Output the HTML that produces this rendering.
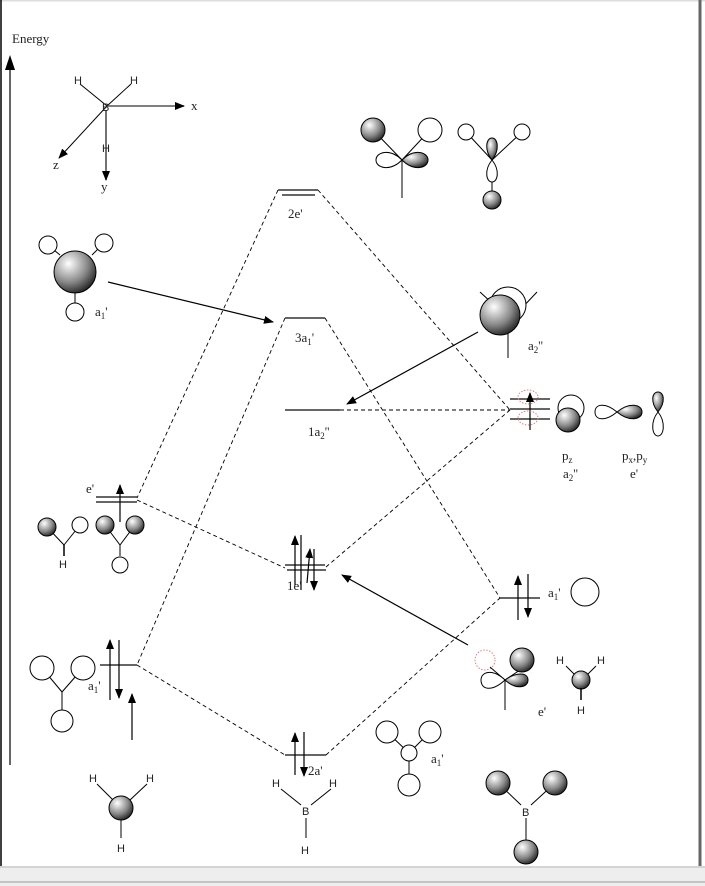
<!DOCTYPE html>
<html><head><meta charset="utf-8"><style>
html,body{margin:0;padding:0;background:#fff}
svg{display:block}
text{font-family:"Liberation Serif",serif;font-size:13px;fill:#222}
.s{font-family:"Liberation Sans",sans-serif;font-size:11px}
</style></head><body>
<svg width="705" height="886" viewBox="0 0 705 886" xmlns="http://www.w3.org/2000/svg">
<defs>
<radialGradient id="g" cx="0.35" cy="0.3" r="0.75">
<stop offset="0" stop-color="#fff"/><stop offset="0.6" stop-color="#888"/><stop offset="1" stop-color="#222"/>
</radialGradient>
<marker id="a" markerWidth="10" markerHeight="8" refX="9" refY="4" orient="auto" markerUnits="userSpaceOnUse">
<path d="M0,0 L10,4 L0,8 Z" fill="#000"/></marker>
</defs>
<rect x="0" y="0" width="705" height="1.5" fill="#ddd"/>
<line x1="1" y1="0" x2="1" y2="866" stroke="#000" stroke-width="1.5"/>
<line x1="700" y1="0" x2="700" y2="866" stroke="#666" stroke-width="3"/>
<rect x="0" y="866" width="705" height="20" fill="#eee"/>
<line x1="0" y1="867" x2="705" y2="867" stroke="#bbb"/>
<line x1="0" y1="882" x2="705" y2="882" stroke="#999"/>

<text x="12" y="43">Energy</text>
<line x1="10" y1="765" x2="10" y2="64" stroke="#666" stroke-width="2"/>
<path d="M10,55 L5,70 L15,70 Z" fill="#000"/>

<g stroke="#000">
<line x1="107" y1="106" x2="80" y2="84"/><line x1="107" y1="106" x2="131" y2="84"/>
<line x1="107" y1="106" x2="184" y2="106" stroke="#555" stroke-width="1.5" marker-end="url(#a)"/>
<line x1="107" y1="106" x2="59" y2="158" marker-end="url(#a)"/>
<line x1="106" y1="110" x2="106" y2="180" stroke="#444" stroke-width="1.5" marker-end="url(#a)"/>
</g>
<text class="s" x="74" y="84">H</text><text class="s" x="130" y="84">H</text>
<text class="s" x="102" y="111">B</text><text class="s" x="102" y="152">H</text>
<text x="191" y="110">x</text><text x="53" y="169">z</text><text x="101" y="191">y</text>

<g stroke="#000" stroke-dasharray="4,3" fill="none" stroke-width="0.9">
<line x1="278" y1="190" x2="137" y2="498"/>
<line x1="318" y1="190" x2="510" y2="410"/>
<line x1="285" y1="318" x2="137" y2="665"/>
<line x1="325" y1="318" x2="500" y2="598"/>
<line x1="340" y1="410" x2="510" y2="410"/>
<line x1="137" y1="500" x2="285" y2="568"/>
<line x1="326" y1="567" x2="510" y2="410"/>
<line x1="137" y1="665" x2="285" y2="755"/>
<line x1="326" y1="755" x2="500" y2="598"/>
</g>

<g stroke="#333" stroke-width="1.5">
<line x1="278" y1="190" x2="318" y2="190"/><line x1="282" y1="195" x2="315" y2="195"/>
<line x1="285" y1="318" x2="325" y2="318"/>
<line x1="285" y1="410" x2="340" y2="410"/>
<line x1="96" y1="497" x2="137" y2="497"/><line x1="96" y1="502" x2="137" y2="502"/>
<line x1="285" y1="565" x2="325" y2="565"/><line x1="287" y1="570" x2="326" y2="570"/>
<line x1="500" y1="598" x2="540" y2="598"/>
<line x1="100" y1="665" x2="137" y2="665"/>
<line x1="285" y1="755" x2="326" y2="755"/>
<line x1="510" y1="399" x2="550" y2="399"/><line x1="510" y1="409" x2="550" y2="409"/><line x1="510" y1="419" x2="550" y2="419"/>
</g>
<g stroke="#000" stroke-width="1.2">
<line x1="120" y1="522" x2="120" y2="485" marker-end="url(#a)"/>
<line x1="295" y1="585" x2="295" y2="536" marker-end="url(#a)"/>
<line x1="301" y1="535" x2="301" y2="590"/>
<line x1="307" y1="583" x2="310" y2="549" marker-end="url(#a)"/>
<line x1="314" y1="549" x2="314" y2="590" marker-end="url(#a)"/>
<line x1="518" y1="620" x2="518" y2="576" marker-end="url(#a)"/>
<line x1="528" y1="574" x2="528" y2="617" marker-end="url(#a)"/>
<line x1="110" y1="700" x2="110" y2="640" marker-end="url(#a)"/>
<line x1="119" y1="640" x2="119" y2="698" marker-end="url(#a)"/>
<line x1="132" y1="740" x2="132" y2="694" marker-end="url(#a)"/>
<line x1="295" y1="775" x2="295" y2="733" marker-end="url(#a)"/>
<line x1="304" y1="732" x2="304" y2="776" marker-end="url(#a)"/>
<line x1="530" y1="430" x2="530" y2="393" marker-end="url(#a)"/>
</g>
<g stroke="#e08080" stroke-dasharray="1.5,1.5" fill="none">
<ellipse cx="528" cy="397" rx="10" ry="7"/><ellipse cx="528" cy="418" rx="10" ry="7"/>
<circle cx="485" cy="660" r="10"/>
</g>

<text x="288" y="218">2e'</text>
<text x="295" y="342">3a<tspan font-size="9" dy="3">1</tspan><tspan dy="-3">'</tspan></text>
<text x="308" y="436">1a<tspan font-size="9" dy="3">2</tspan><tspan dy="-3">''</tspan></text>
<text x="86" y="493">e'</text>
<text x="287" y="590">1e'</text>
<text x="548" y="597">a<tspan font-size="9" dy="3">1</tspan><tspan dy="-3">'</tspan></text>
<text x="88" y="690">a<tspan font-size="9" dy="3">1</tspan><tspan dy="-3">'</tspan></text>
<text x="308" y="775">2a'</text>

<g stroke="#000" stroke-width="1.2">
<line x1="108" y1="282" x2="273" y2="322" marker-end="url(#a)"/>
<line x1="478" y1="332" x2="347" y2="404" marker-end="url(#a)"/>
<line x1="468" y1="645" x2="342" y2="575" marker-end="url(#a)"/>
</g>

<g stroke="#000" fill="none">
<line x1="60" y1="255" x2="48" y2="245"/><line x1="92" y1="255" x2="104" y2="243"/><line x1="75" y1="292" x2="75" y2="304"/>
<circle cx="48" cy="245" r="9" fill="#fff"/><circle cx="104" cy="243" r="9" fill="#fff"/><circle cx="75" cy="312" r="9" fill="#fff"/>
<circle cx="75" cy="272" r="21" fill="url(#g)"/>

<line x1="373" y1="130" x2="402" y2="160"/><line x1="430" y1="130" x2="402" y2="160"/><line x1="402" y1="160" x2="402" y2="198"/>
<circle cx="373" cy="130" r="12" fill="url(#g)"/><circle cx="430" cy="130" r="12" fill="#fff"/>
<path d="M402,160 C390,148 376,152 376,160 C376,168 390,172 402,160 Z" fill="#fff"/>
<path d="M402,160 C414,148 428,152 428,160 C428,168 414,172 402,160 Z" fill="url(#g)"/>
<line x1="466" y1="132" x2="492" y2="160"/><line x1="522" y1="132" x2="492" y2="160"/><line x1="492" y1="180" x2="492" y2="192"/>
<circle cx="466" cy="132" r="8" fill="#fff"/><circle cx="522" cy="132" r="8" fill="#fff"/>
<path d="M492,160 C484,150 486,138 492,138 C498,138 500,150 492,160 Z" fill="url(#g)"/>
<path d="M492,160 C484,170 486,182 492,182 C498,182 500,170 492,160 Z" fill="#fff"/>
<circle cx="492" cy="200" r="9" fill="url(#g)"/>

<line x1="480" y1="292" x2="493" y2="304"/><line x1="537" y1="292" x2="520" y2="310"/><line x1="508" y1="330" x2="508" y2="358"/>
<circle cx="508" cy="305" r="18" fill="#fff"/>
<circle cx="500" cy="315" r="20" fill="url(#g)"/>

<circle cx="571" cy="408" r="13" fill="#fff"/>
<circle cx="568" cy="420" r="12" fill="url(#g)"/>
<path d="M617,412 C605,402 595,404 595,412 C595,420 605,422 617,412 Z" fill="#fff"/>
<path d="M617,412 C629,402 642,404 642,412 C642,420 629,422 617,412 Z" fill="url(#g)"/>
<path d="M658,412 C650,402 652,392 658,392 C664,392 666,402 658,412 Z" fill="url(#g)"/>
<path d="M658,412 C650,422 652,436 658,436 C664,436 666,422 658,412 Z" fill="#fff"/>

<line x1="47" y1="527" x2="64" y2="545"/><line x1="80" y1="525" x2="64" y2="545"/><line x1="64" y1="545" x2="64" y2="556"/>
<circle cx="47" cy="527" r="9" fill="url(#g)"/><circle cx="80" cy="525" r="8" fill="#fff"/>
<line x1="105" y1="525" x2="120" y2="545"/><line x1="135" y1="525" x2="120" y2="545"/><line x1="120" y1="545" x2="120" y2="556"/>
<circle cx="105" cy="525" r="9" fill="url(#g)"/><circle cx="135" cy="525" r="9" fill="url(#g)"/><circle cx="120" cy="565" r="8" fill="#fff"/>

<line x1="42" y1="668" x2="62" y2="692"/><line x1="83" y1="668" x2="62" y2="692"/><line x1="62" y1="692" x2="62" y2="710"/>
<circle cx="42" cy="668" r="12" fill="#fff"/><circle cx="83" cy="668" r="12" fill="#fff"/><circle cx="62" cy="721" r="11" fill="#fff"/>

<circle cx="585" cy="592" r="14" fill="#fff"/>

<line x1="490" y1="667" x2="505" y2="680"/><line x1="520" y1="670" x2="505" y2="680"/><line x1="505" y1="680" x2="505" y2="710"/>
<circle cx="522" cy="660" r="12" fill="url(#g)"/>
<path d="M505,680 C492,668 481,672 481,680 C481,690 492,692 505,680 Z" fill="#fff"/>
<path d="M505,680 C516,672 528,672 528,680 C528,688 516,690 505,680 Z" fill="url(#g)"/>
<line x1="566" y1="666" x2="576" y2="676"/><line x1="596" y1="666" x2="586" y2="676"/><line x1="581" y1="688" x2="581" y2="700"/>
<circle cx="581" cy="680" r="9" fill="url(#g)"/>

<line x1="387" y1="732" x2="409" y2="753"/><line x1="430" y1="732" x2="409" y2="753"/><line x1="409" y1="760" x2="409" y2="775"/>
<circle cx="387" cy="732" r="11" fill="#fff"/><circle cx="430" cy="732" r="11" fill="#fff"/>
<circle cx="409" cy="753" r="8" fill="#fff"/><circle cx="409" cy="785" r="11" fill="#fff"/>

<line x1="97" y1="784" x2="113" y2="800"/><line x1="147" y1="784" x2="130" y2="800"/><line x1="121" y1="820" x2="121" y2="838"/>
<circle cx="121" cy="808" r="12" fill="url(#g)"/>
<line x1="281" y1="789" x2="301" y2="805"/><line x1="331" y1="789" x2="311" y2="805"/><line x1="306" y1="818" x2="306" y2="838"/>
<line x1="498" y1="783" x2="521" y2="805"/><line x1="555" y1="783" x2="531" y2="805"/><line x1="526" y1="818" x2="526" y2="842"/>
<circle cx="498" cy="783" r="12" fill="url(#g)"/><circle cx="555" cy="783" r="12" fill="url(#g)"/><circle cx="526" cy="852" r="12" fill="url(#g)"/>
</g>
<g stroke="#000" stroke-width="1.5">
<line x1="64" y1="545" x2="64" y2="556"/><line x1="581" y1="688" x2="581" y2="700"/>
</g>

<text class="s" x="59" y="568">H</text>
<text class="s" x="556" y="664">H</text><text class="s" x="597" y="664">H</text><text class="s" x="577" y="714">H</text>
<text x="538" y="716">e'</text>
<text x="95" y="316">a<tspan font-size="9" dy="3">1</tspan><tspan dy="-3">'</tspan></text>
<text x="528" y="350">a<tspan font-size="9" dy="3">2</tspan><tspan dy="-3">''</tspan></text>
<text x="562" y="460">p<tspan font-size="9" dy="3">z</tspan></text>
<text x="563" y="478">a<tspan font-size="9" dy="3">2</tspan><tspan dy="-3">''</tspan></text>
<text x="622" y="460">p<tspan font-size="9" dy="3">x</tspan><tspan dy="-3">,p</tspan><tspan font-size="9" dy="3">y</tspan></text>
<text x="630" y="478">e'</text>
<text x="431" y="763">a<tspan font-size="9" dy="3">1</tspan><tspan dy="-3">'</tspan></text>
<text class="s" x="89" y="782">H</text><text class="s" x="146" y="782">H</text><text class="s" x="117" y="852">H</text>
<text class="s" x="272" y="787">H</text><text class="s" x="329" y="787">H</text><text class="s" x="302" y="815">B</text><text class="s" x="301" y="854">H</text>
<text class="s" x="522" y="816">B</text>
</svg>
</body></html>
